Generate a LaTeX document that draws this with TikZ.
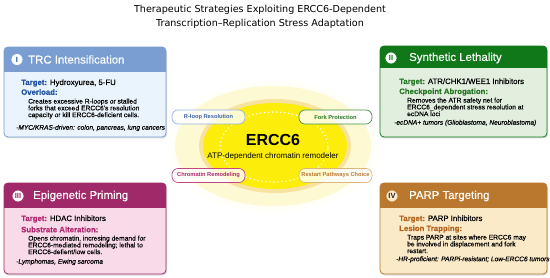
\documentclass[tikz,border=0pt]{standalone}
\usepackage{fontspec}
\setmainfont{Liberation Sans}
\newfontfamily\medfont{Liberation Sans}[FakeBold=0.25]
\newfontfamily\titlefont{DejaVu Sans}
\definecolor{trcH}{RGB}{122,158,210}
\definecolor{trcB}{RGB}{234,244,252}
\definecolor{trcT}{RGB}{30,80,160}
\definecolor{synH}{RGB}{16,120,24}
\definecolor{synB}{RGB}{226,238,222}
\definecolor{synT}{RGB}{40,120,40}
\definecolor{epiH}{RGB}{160,42,105}
\definecolor{epiB}{RGB}{248,218,233}
\definecolor{epiT}{RGB}{176,40,110}
\definecolor{parH}{RGB}{185,120,45}
\definecolor{parB}{RGB}{251,234,200}
\definecolor{parT}{RGB}{180,100,30}
\definecolor{glowY}{RGB}{253,249,210}
\definecolor{ringY}{RGB}{247,226,160}
\definecolor{coreY}{RGB}{252,238,10}
\definecolor{pillB}{RGB}{150,180,222}
\definecolor{pillBT}{RGB}{60,100,170}
\definecolor{pillG}{RGB}{70,145,70}
\definecolor{pillM}{RGB}{192,72,132}
\definecolor{pillO}{RGB}{222,182,122}
\definecolor{pillOT}{RGB}{190,120,50}
\newcommand\stratbox[7]{%
  \fill[black!13, rounded corners=4pt] (#1+1,#2+1.5) rectangle (#3+1,#4+1.5);
  \begin{scope}
    \clip[rounded corners=4pt] (#1,#2) rectangle (#3,#4);
    \fill[#7] (#1,#2) rectangle (#3,#4);
    \fill[#6] (#1,#2) rectangle (#3,#5);
  \end{scope}
  \draw[#6, line width=0.8pt, rounded corners=4pt] (#1,#2) rectangle (#3,#4);
}
\begin{document}
\begin{tikzpicture}[x=1pt,y=-1pt,
  every node/.style={inner sep=0pt},
  titletext/.style={font=\titlefont\fontsize{9.6}{11}\selectfont},
  hdrtext/.style={anchor=west, text=white, font=\medfont\fontsize{11.4}{12}\selectfont},
  icon/.style={circle, fill=white, minimum size=12pt, line width=0.7pt, font=\bfseries\fontsize{7.5}{7.5}\selectfont},
  tgt/.style={anchor=west, font=\medfont\fontsize{7.8}{8}\selectfont},
  desc/.style={anchor=north west, align=left, font=\medfont\fontsize{6.7}{6.8}\selectfont},
  note/.style={anchor=west, font=\medfont\itshape\fontsize{6.6}{7}\selectfont},
  pill/.style={draw, fill=white, fill opacity=0.8, text opacity=1, rounded corners=6pt, line width=0.7pt,
    minimum width=73pt, minimum height=14pt, font=\bfseries\fontsize{5.7}{6}\selectfont}]
\useasboundingbox (0,0) rectangle (550,278);
\fill[white] (0,0) rectangle (550,278);

% title
\node[titletext] (title1) at (260,10) {Therapeutic Strategies Exploiting ERCC6-Dependent};
\node[titletext] (title2) at (260,23.5) {Transcription–Replication Stress Adaptation};

% centre glow
\shade[inner color=glowY!80!yellow, outer color=white] (273,146) ellipse [x radius=108pt, y radius=68pt];
\fill[glowY] (273,146) ellipse [x radius=98pt, y radius=60pt];
\fill[ringY] (275,146) ellipse [x radius=76pt, y radius=47pt];
\fill[coreY] (275,146) ellipse [x radius=72pt, y radius=43pt];
\draw[white, line width=1.6pt, line cap=round, dash pattern=on 0pt off 4pt] (274,147) ellipse [x radius=54pt, y radius=35pt];
\node[font=\bfseries\fontsize{16}{18}\selectfont] (ercc) at (273,140) {ERCC6};
\node[font=\fontsize{8}{9}\selectfont] (erccsub) at (273,156) {ATP-dependent chromatin remodeler};

% pills
\node[pill, draw=pillB, text=pillBT] (rloop) at (208.5,117) {R-loop Resolution};
\node[pill, draw=pillG, text=synT] (fork) at (335.5,117) {Fork Protection};
\node[pill, draw=pillM, text=epiT] (chrom) at (208.5,175.5) {Chromatin Remodeling};
\node[pill, draw=pillO, text=pillOT] (restart) at (335.5,175.5) {Restart Pathways Choice};

% Box I
\stratbox{4}{47}{166}{137}{72}{trcH}{trcB}
\node[icon, draw=trcH, text=trcT] (i1) at (17,59.5) {I};
\node[hdrtext] (h1) at (28,59.5) {TRC Intensification};
\node[tgt] (t1) at (21,83) {\textbf{\textcolor{trcT}{Target:}} Hydroxyurea, 5-FU};
\node[tgt, text=trcT] (o1) at (21,92) {\textbf{Overload:}};
\node[desc] (d1) at (28,98.5) {Creates excessive R-loops or stalled\\forks that exceed ERCC6's resolution\\capacity or kill ERCC6-deficient cells.};
\node[note] (n1) at (16,128) {-MYC/KRAS-driven: colon, pancreas, lung cancers};

% Box II
\stratbox{380}{46}{547}{137}{68}{synH}{synB}
\node[icon, draw=synH, text=synH] (i2) at (391,58) {II};
\node[hdrtext] (h2) at (409,58) {Synthetic Lethality};
\node[tgt] (t2) at (399,82) {\textbf{\textcolor{synT}{Target:}} ATR/CHK1/WEE1 Inhibitors};
\node[tgt, text=synT] (o2) at (399,92) {\textbf{Checkpoint Abrogation:}};
\node[desc] (d2) at (407,97.5) {Removes the ATR safety net for\\ERCC6\_dependent stress resolution at\\ecDNA loci};
\node[note] (n2) at (394,123) {-ecDNA+ tumors (Glioblastoma, Neuroblastoma)};

% Box III
\stratbox{4}{183}{166}{274}{208}{epiH}{epiB}
\node[icon, draw=epiH, text=epiH] (i3) at (18,196) {III};
\node[hdrtext] (h3) at (33,196) {Epigenetic Priming};
\node[tgt] (t3) at (21,219) {\textbf{\textcolor{epiT}{Target:}} HDAC Inhibitors};
\node[tgt, text=epiT] (o3) at (21,229.5) {\textbf{Substrate Alteration:}};
\node[desc] (d3) at (28,235.5) {Opens chromatin, incresing demand for\\ERCC6-mediated remodeling; lethal to\\ERCC6-defient/low cells.};
\node[note] (n3) at (16,262) {-Lymphomas, Ewing sarcoma};

% Box IV
\stratbox{380}{183}{547}{274}{208}{parH}{parB}
\node[icon, draw=parH, fill=parB, text=black!85] (i4) at (392,196) {IV};
\node[hdrtext] (h4) at (409,196) {PARP Targeting};
\node[tgt] (t4) at (399,219) {\textbf{\textcolor{parT}{Target:}} PARP Inhibitors};
\node[tgt, text=parT] (o4) at (399,229) {\textbf{Lesion Trapping:}};
\node[desc] (d4) at (407,234.5) {Traps PARP at sites where ERCC6 may\\be involved in displacement and fork\\restart.};
\node[note] (n4) at (396,259.5) {-HR-proficient: PARPi-resistant; Low-ERCC6 tumors};
\end{tikzpicture}
\end{document}
